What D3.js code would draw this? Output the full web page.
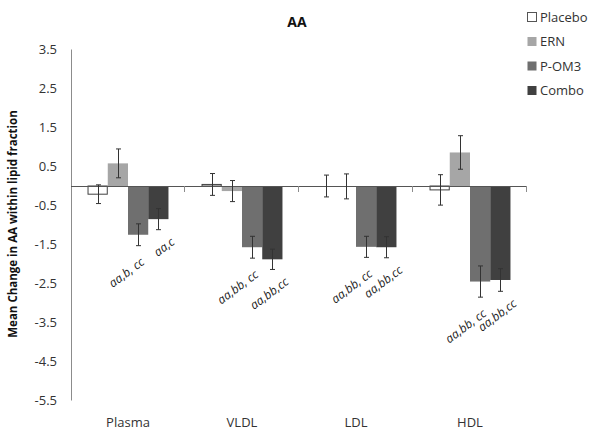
<!DOCTYPE html>
<html><head><meta charset="utf-8">
<script src="https://cdn.jsdelivr.net/npm/d3@7"></script>
<style>
html,body{margin:0;padding:0;background:#fff;}
svg{display:block;font-family:"Open Sans","Noto Sans",sans-serif;}
</style></head>
<body>
<svg id="chart" width="600" height="437"></svg>
<script>
const categories = ["Plasma", "VLDL", "LDL", "HDL"];
const seriesNames = ["Placebo", "ERN", "P-OM3", "Combo"];
const yTicks = [3.5, 2.5, 1.5, 0.5, -0.5, -1.5, -2.5, -3.5, -4.5, -5.5];
// values per series, in category order
const placebo = [-0.21, 0.04, 0.0, -0.10];
const ern     = [0.58, -0.13, -0.01, 0.86];
const pom3    = [-1.25, -1.57, -1.56, -2.45];
const combo   = [-0.85, -1.88, -1.57, -2.41];
// standard errors
const placeboErr = [0.24, 0.28, 0.28, 0.39];
const ernErr     = [0.37, 0.27, 0.32, 0.43];
const pom3Err    = [0.28, 0.28, 0.27, 0.40];
const comboErr   = [0.27, 0.26, 0.27, 0.29];
// significance annotations
const pom3Labels  = ["aa,b, cc", "aa,bb, cc", "aa,bb, cc", "aa,bb, cc"];
const comboLabels = ["aa,c", "aa,bb,cc", "aa,bb,cc", "aa,bb,cc"];

(function () {
const values = [placebo, ern, pom3, combo];
const errs = [placeboErr, ernErr, pom3Err, comboErr];
const labels = [null, null, pom3Labels, comboLabels];
const fills = ["#ffffff", "#a6a6a6", "#6f6f6f", "#404040"];
const strokes = ["#404040", "none", "none", "none"];
const labelDx = [0, 0, 7, 17];
const labelDy = [0, 0, 18, 14];

const svg = d3.select("#chart");
const pLeft = 71, pRight = 527, pTop = 49.5, pBottom = 400.5;

const y = d3.scaleLinear().domain([-5.5, 3.5]).range([pBottom, pTop]);
const x0 = d3.scaleBand().domain(categories).range([pLeft, pRight]).paddingInner(0.29).paddingOuter(0.145);
const x1 = d3.scaleBand().domain(seriesNames).range([0, x0.bandwidth()]);

const data = [];
categories.forEach((c, ci) => {
  seriesNames.forEach((s, si) => {
    data.push({c, s, si, v: values[si][ci], e: errs[si][ci], lab: labels[si] ? labels[si][ci] : null});
  });
});

// y axis line
svg.append("line").attr("x1", pLeft + 0.5).attr("x2", pLeft + 0.5)
  .attr("y1", pTop).attr("y2", pBottom).attr("stroke", "#8c8c8c").attr("stroke-width", 1);

// y tick labels
svg.append("g").selectAll("text").data(yTicks).join("text")
  .attr("x", 57).attr("y", d => y(d)).attr("dy", "0.35em")
  .attr("text-anchor", "end").attr("font-size", 13).attr("fill", "#333")
  .text(d => d.toFixed(1));

// bars
svg.append("g").selectAll("rect").data(data).join("rect")
  .attr("x", d => x0(d.c) + x1(d.s) + (d.si === 0 ? 0.5 : 0))
  .attr("width", d => x1.bandwidth() - (d.si === 0 ? 1 : 0))
  .attr("y", d => Math.min(y(d.v), y(0)))
  .attr("height", d => Math.abs(y(d.v) - y(0)))
  .attr("fill", d => fills[d.si])
  .attr("stroke", d => strokes[d.si])
  .attr("stroke-width", 1);

// zero line with category ticks
const y0 = Math.round(y(0));
svg.append("line").attr("x1", pLeft).attr("x2", pRight)
  .attr("y1", y0 + 0.5).attr("y2", y0 + 0.5)
  .attr("stroke", "#555").attr("stroke-width", 1);
const bounds = categories.slice(1).map(c => x0(c) - x0.step() * x0.paddingInner() / 2).concat([pRight]);
svg.append("g").selectAll("line").data(bounds).join("line")
  .attr("x1", d => Math.round(d) - 0.5).attr("x2", d => Math.round(d) - 0.5)
  .attr("y1", y0).attr("y2", y0 + 6)
  .attr("stroke", "#8c8c8c");

// error bars
const eg = svg.append("g").attr("stroke", "#333").attr("stroke-width", 1);
data.forEach(d => {
  const cx = Math.round(x0(d.c) + x1(d.s) + x1.bandwidth() / 2) + 0.5;
  const ya = y(d.v + d.e), yb = y(d.v - d.e);
  eg.append("line").attr("x1", cx).attr("x2", cx).attr("y1", ya).attr("y2", yb);
  eg.append("line").attr("x1", cx - 2.5).attr("x2", cx + 2.5).attr("y1", ya).attr("y2", ya);
  eg.append("line").attr("x1", cx - 2.5).attr("x2", cx + 2.5).attr("y1", yb).attr("y2", yb);
});

// annotations
svg.append("g").selectAll("text").data(data.filter(d => d.lab)).join("text")
  .attr("transform", d => {
    const cx = x0(d.c) + x1(d.s) + x1.bandwidth() / 2;
    return `translate(${cx + labelDx[d.si]},${y(d.v - d.e) + labelDy[d.si]}) rotate(-37)`;
  })
  .attr("text-anchor", "end").attr("font-size", 12).attr("font-style", "italic").attr("fill", "#222")
  .text(d => d.lab);

// category labels
svg.append("g").selectAll("text").data(categories).join("text")
  .attr("x", d => x0(d) + x0.bandwidth() / 2).attr("y", 427)
  .attr("text-anchor", "middle").attr("font-size", 13).attr("fill", "#333")
  .text(d => d);

// title
svg.append("text").attr("x", 297).attr("y", 27).attr("text-anchor", "middle")
  .attr("font-size", 14).attr("font-weight", "bold").attr("fill", "#111").text("AA");

// y label
svg.append("text").attr("transform", `translate(17,224) rotate(-90)`)
  .attr("text-anchor", "middle").attr("font-size", 11.5).attr("font-weight", "bold").attr("fill", "#111")
  .text("Mean Change in AA within lipid fraction");

// legend
const lg = svg.append("g").selectAll("g").data(seriesNames).join("g")
  .attr("transform", (d, i) => `translate(527,${17 + i * 24.5})`);
lg.append("rect").attr("x", 0.5).attr("y", -4.5).attr("width", 9).attr("height", 9)
  .attr("fill", (d, i) => fills[i]).attr("stroke", (d, i) => i === 0 ? "#555" : "none");
lg.append("text").attr("x", 13).attr("y", 0).attr("dy", "0.36em")
  .attr("font-size", 13).attr("fill", "#333").text(d => d);
})();
</script>
</body></html>
